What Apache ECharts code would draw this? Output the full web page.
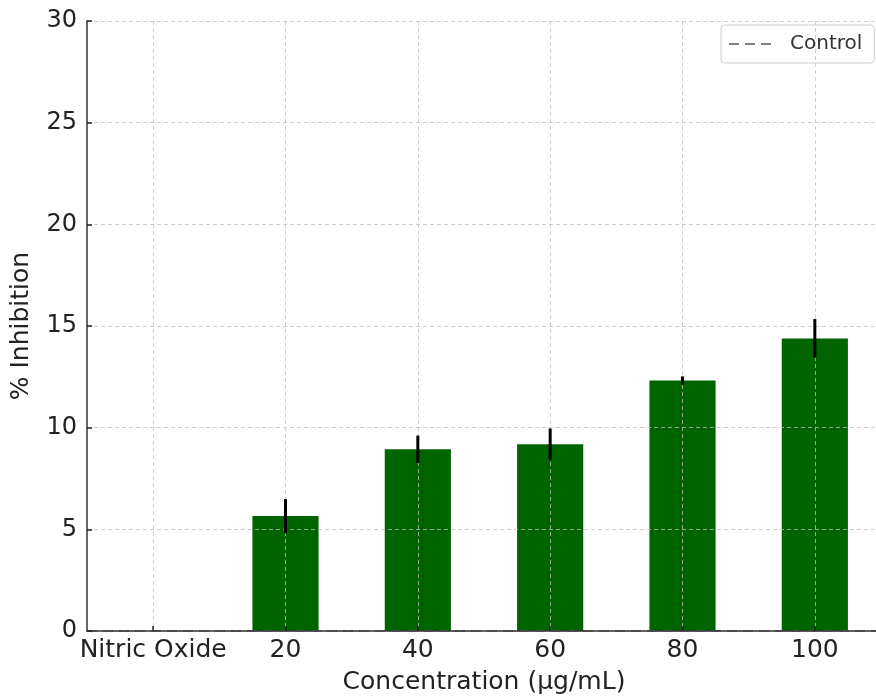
<!DOCTYPE html>
<html>
<head>
<meta charset="utf-8">
<script src="https://cdn.jsdelivr.net/npm/echarts@6/dist/echarts.min.js"></script>
<style>
  html, body { margin: 0; padding: 0; background: #fff; overflow: hidden; }
  #chart { width: 876px; height: 696px; }
</style>
</head>
<body>
<div id="chart"></div>
<script>
// Concentration groups and measured % inhibition (mean ± error)
const categories = ['Nitric Oxide', '20', '40', '60', '80', '100'];
const inhibition = [0, 5.65, 8.94, 9.19, 12.32, 14.39];
const errors = [0, 0.84, 0.67, 0.77, 0.2, 0.95];
const yTicks = { min: 0, max: 30, step: 5 };
const controlLevel = 0;

const FONT = 'DejaVu Sans';
const chart = echarts.init(document.getElementById('chart'), null, { renderer: 'canvas' });

const gridLine = { show: true, interval: 0, lineStyle: { color: 'rgba(190,190,190,0.75)', type: [4, 3], width: 1 } };
const dashed = [10, 6];

chart.setOption({
  animation: false,
  backgroundColor: '#ffffff',
  textStyle: { fontFamily: FONT },
  grid: { left: 87, width: 794, top: 21, height: 610, outerBoundsMode: 'none', containLabel: false },
  legend: {
    data: [{ name: 'Control' }],
    left: 721, top: 25,
    padding: [9, 12, 9, 7],
    itemWidth: 44, itemHeight: 20, itemGap: 8,
    borderColor: '#cccccc', borderWidth: 1, borderRadius: 4,
    backgroundColor: 'rgba(255,255,255,0.85)',
    itemStyle: { opacity: 0 },
    textStyle: { fontFamily: FONT, fontSize: 20, color: '#333', padding: [0, 0, 0, 12] }
  },
  xAxis: {
    type: 'category',
    data: categories,
    boundaryGap: true,
    z: 10,
    name: 'Concentration (µg/mL)',
    nameLocation: 'middle',
    nameGap: 39,
    nameTextStyle: { fontFamily: FONT, fontSize: 25, color: '#222' },
    axisLine: { show: true, lineStyle: { color: '#333', width: 1.5 } },
    axisTick: { show: true, interval: 0, inside: true, length: 5, alignWithLabel: true, lineStyle: { color: '#222', width: 1.5 } },
    axisLabel: { interval: 0, fontFamily: FONT, fontSize: 25, color: '#222', margin: 7 },
    splitLine: Object.assign({ alignWithLabel: true }, gridLine)
  },
  yAxis: {
    type: 'value',
    min: yTicks.min, max: yTicks.max, interval: yTicks.step,
    z: 10,
    name: '% Inhibition',
    nameLocation: 'middle',
    nameGap: 53,
    nameTextStyle: { fontFamily: FONT, fontSize: 25, color: '#222' },
    axisLine: { show: true, lineStyle: { color: '#333', width: 1.5 } },
    axisTick: { show: true, inside: true, length: 5, lineStyle: { color: '#222', width: 1.5 } },
    axisLabel: { fontFamily: FONT, fontSize: 24, color: '#222', margin: 10 },
    splitLine: gridLine
  },
  series: [
    {
      name: 'Inhibition',
      type: 'bar',
      data: inhibition,
      barWidth: '50%',
      z: 2,
      itemStyle: { color: '#006400' }
    },
    {
      name: 'Error',
      type: 'custom',
      z: 12,
      data: inhibition.map((v, i) => [i, v - errors[i], v + errors[i], errors[i]]),
      renderItem: function (params, api) {
        if (api.value(3) <= 0) return null;
        const lo = api.coord([api.value(0), api.value(1)]);
        const hi = api.coord([api.value(0), api.value(2)]);
        return {
          type: 'line',
          shape: { x1: lo[0], y1: lo[1], x2: hi[0], y2: hi[1] },
          style: { stroke: '#000', lineWidth: 3 }
        };
      }
    },
    {
      name: 'Control',
      type: 'line',
      data: [],
      symbol: 'none',
      z: 11,
      lineStyle: { color: '#808080', type: dashed, width: 2 },
      itemStyle: { color: '#808080' },
      markLine: {
        silent: true,
        symbol: ['none', 'none'],
        label: { show: false },
        lineStyle: { color: '#808080', type: dashed, width: 2 },
        data: [{ yAxis: controlLevel }]
      }
    }
  ]
});
</script>
</body>
</html>
